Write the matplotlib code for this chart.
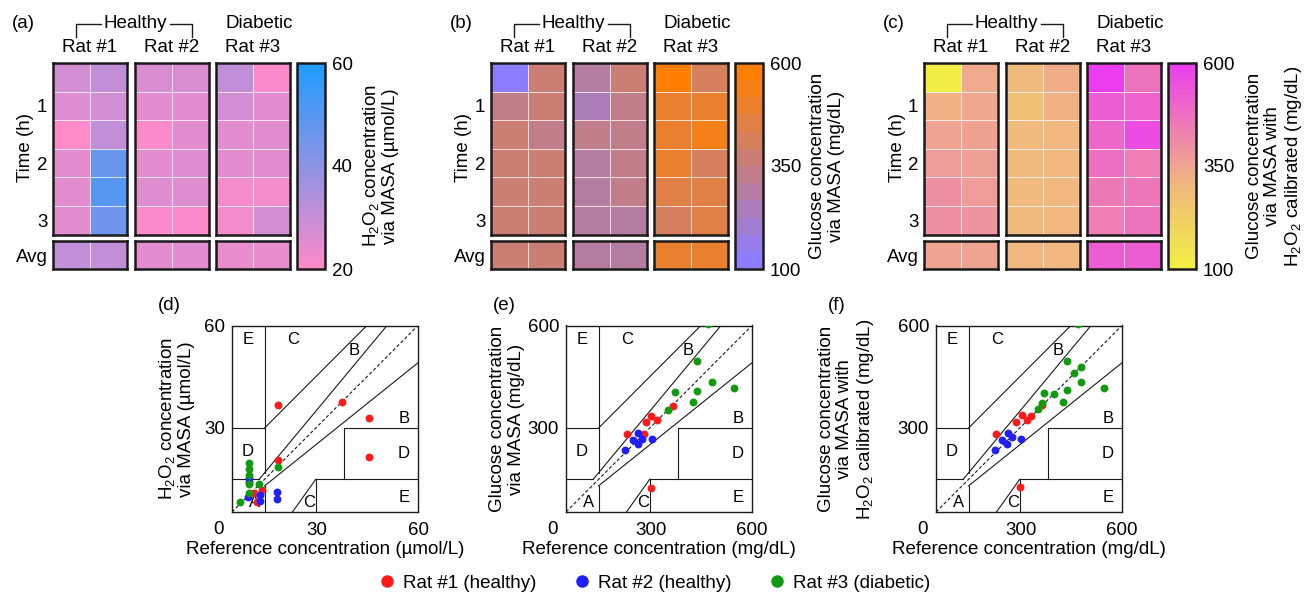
import numpy as np
import matplotlib
matplotlib.use('Agg')
import matplotlib.pyplot as plt
from matplotlib.colors import LinearSegmentedColormap, Normalize
from matplotlib.cm import ScalarMappable
from matplotlib.lines import Line2D

plt.rcParams['font.family'] = ['Liberation Sans', 'DejaVu Sans']
plt.rcParams['mathtext.fontset'] = 'custom'
plt.rcParams['mathtext.rm'] = 'Liberation Sans'
plt.rcParams['mathtext.it'] = 'Liberation Sans:italic'
plt.rcParams['font.size'] = 13.5

#--- heatmaps: 6 time rows (every 0.5 h) x 2 replicate columns per rat ---
rat_names = ['Rat #1', 'Rat #2', 'Rat #3']
time_labels = ['', '1', '', '2', '', '3']

#(a) H2O2 via MASA (umol/L)
h2o2_rat1 = [[28, 31], [26, 28], [20, 31], [25, 47], [25, 50], [25, 46]]
h2o2_rat2 = [[27, 27], [25, 25], [21, 25], [25, 26], [26, 26], [21, 21]]
h2o2_rat3 = [[31, 21], [28, 25], [25, 25], [25, 25], [22, 22], [22, 28]]
h2o2_avg = [[31, 31], [25, 25], [24, 24]]

#(b) glucose via MASA (mg/dL)
glu_rat1 = [[130, 370], [320, 370], [370, 310], [390, 350], [390, 370], [390, 370]]
glu_rat2 = [[280, 350], [260, 310], [310, 310], [305, 310], [305, 310], [305, 305]]
glu_rat3 = [[600, 430], [500, 500], [480, 540], [480, 410], [460, 460], [400, 470]]
glu_avg = [[350, 350], [300, 300], [480, 480]]

#(c) glucose via MASA with H2O2 calibration (mg/dL)
cal_rat1 = [[110, 340], [320, 345], [350, 355], [370, 360], [400, 370], [400, 390]]
cal_rat2 = [[300, 330], [270, 320], [300, 305], [300, 305], [300, 305], [300, 305]]
cal_rat3 = [[600, 470], [520, 510], [500, 560], [480, 440], [450, 460], [440, 470]]
cal_avg = [[350, 350], [305, 305], [520, 520]]

#--- Clarke error grid scatter (reference, measured) ---
d_rat1_x = [18.5, 37.4, 45.6, 45.6, 18.5, 13.8, 11.6, 12.3]
d_rat1_y = [36.6, 37.3, 32.8, 21.1, 20.3, 11.5, 10.7, 8.0]
d_rat2_x = [10.0, 10.0, 13.3, 13.3, 9.6, 18.2, 18.2]
d_rat2_y = [15.0, 13.7, 10.0, 8.3, 9.5, 11.0, 8.8]
d_rat3_x = [10.0, 10.0, 10.0, 10.0, 13.0, 18.5, 10.0, 7.4]
d_rat3_y = [19.4, 17.6, 15.9, 13.3, 13.3, 18.4, 10.5, 8.0]

e_rat1_x = [365, 301, 288, 320, 230, 281, 300]
e_rat1_y = [364, 332, 315, 321, 279, 279, 122]
e_rat2_x = [264, 249, 264, 303, 225, 274]
e_rat2_y = [283, 262, 250, 264, 232, 266]
e_rat3_x = [436, 481, 547, 436, 372, 427, 353, 470]
e_rat3_y = [494, 432, 417, 407, 403, 374, 352, 605]

f_rat1_x = [363, 303, 287, 331, 318, 227, 298]
f_rat1_y = [365, 335, 316, 332, 321, 279, 123]
f_rat2_x = [225, 244, 264, 259, 274, 301]
f_rat2_y = [232, 262, 283, 250, 272, 264]
f_rat3_x = [436, 478, 459, 478, 436, 547, 399, 370, 427, 363, 351, 471]
f_rat3_y = [495, 477, 460, 433, 409, 417, 399, 402, 374, 370, 354, 605]

rat_colors = ['#ff1a1a', '#1f1fff', '#0f9a0f']
legend_labels = ['Rat #1 (healthy)', 'Rat #2 (healthy)', 'Rat #3 (diabetic)']

#Clarke zone boundaries in grid units (0-400 spans the box)
clarke_lines = [([0, 175/3], [70, 70]), ([175/3, 400/1.2], [70, 400]),
                ([70, 70], [84, 400]), ([0, 70], [180, 180]),
                ([70, 290], [180, 400]), ([70, 70], [0, 56]),
                ([70, 400], [56, 320]), ([180, 180], [0, 70]),
                ([180, 400], [70, 70]), ([240, 240], [70, 180]),
                ([240, 400], [180, 180]), ([130, 180], [0, 70])]
zone_letters = [('E', 34, 369), ('C', 131, 369), ('B', 263, 346), ('B', 370, 200),
                ('D', 370, 126), ('E', 370, 32), ('D', 34, 129), ('A', 49, 21),
                ('C', 165, 21)]

#colormaps
cmap_a = LinearSegmentedColormap.from_list('a', ['#ff8ac8', '#1e9cff'])
cmap_b = LinearSegmentedColormap.from_list('b', ['#8c7cff', '#ff8000'], N=12)
cmap_c = LinearSegmentedColormap.from_list('c', [(0, '#f2f041'), (0.4, '#f0b97d'), (1, '#eb3cf0')])

W, H = 1304, 594
fig = plt.figure(figsize=(W/100, H/100), dpi=100)
ink = '#1a1a1a'

def fx(x):
    return x / W

def fy(y):
    return 1 - y / H

def add_px(x0, y0, x1, y1):
    return fig.add_axes([fx(x0), fy(y1), (x1 - x0) / W, (y1 - y0) / H])

def block(ax, vals, cmap, vmin, vmax):
    ax.pcolormesh(np.asarray(vals, float), cmap=cmap, vmin=vmin, vmax=vmax,
                  edgecolors=(1, 1, 1, 0.75), linewidth=0.6)
    ax.invert_yaxis()
    ax.set_xticks([])
    ax.set_yticks([])
    for s in ax.spines.values():
        s.set_linewidth(1.8)
        s.set_edgecolor(ink)

def heat_panel(x0, tag, rows, avgs, cmap, vmin, vmax, label, label_dx):
    for i in range(3):
        left = x0 + [0, 82, 163][i]
        ax = add_px(left, 63, left + 74, 234.5)
        block(ax, rows[i], cmap, vmin, vmax)
        axa = add_px(left, 241, left + 74, 269)
        block(axa, [avgs[i]], cmap, vmin, vmax)
        fig.text(fx(left + 37), fy(48), rat_names[i], ha='center', va='center')
        if i == 0:
            ax.set_yticks(np.arange(6) + 0.5, time_labels)
            axa.set_yticks([0.5], ['Avg'])
            ax.tick_params(length=0, pad=4)
            axa.tick_params(length=0, pad=4)
    #group headers
    fig.text(fx(x0 - 41), fy(23), tag, ha='left', va='center')
    fig.text(fx(x0 + 82), fy(23), 'Healthy', ha='center', va='center')
    fig.text(fx(x0 + 206), fy(23), 'Diabetic', ha='center', va='center')
    for xs, ys in [([x0 + 23, x0 + 23, x0 + 48], [37, 23.5, 23.5]),
                   ([x0 + 117, x0 + 139, x0 + 139], [23.5, 23.5, 37])]:
        fig.add_artist(Line2D([fx(v) for v in xs], [fy(v) for v in ys], color=ink, lw=1))
    fig.text(fx(x0 - 27), fy(148), 'Time (h)', rotation=90, ha='center', va='center')
    #colorbar
    cax = add_px(x0 + 244, 63, x0 + 272, 269)
    cb = fig.colorbar(ScalarMappable(Normalize(vmin, vmax), cmap), cax=cax,
                      ticks=[vmin, (vmin + vmax) // 2, vmax], format='%d')
    cb.outline.set_linewidth(1.8)
    cb.outline.set_edgecolor(ink)
    cax.tick_params(length=0, pad=5)
    fig.text(fx(x0 + label_dx), fy(166), label, rotation=90, ha='center', va='center',
             multialignment='center', linespacing=1.1)

def clarke_panel(x0, lo, hi, ticks, tag, series, xlabel, ylabel, ylabel_x, tag_x):
    ax = add_px(x0, 325.5, x0 + 186, 512)
    s = (hi - lo) / 400.0
    for gx, gy in clarke_lines:
        ax.plot([lo + s * v for v in gx], [lo + s * v for v in gy], color=ink, lw=0.8, zorder=1)
    ax.plot([lo, hi], [lo, hi], color=ink, lw=0.8, ls=(0, (3, 2)), zorder=1)
    for z, zx, zy in zone_letters:
        ax.text(lo + s * zx, lo + s * zy, z, ha='center', va='center', fontsize=12)
    for (xs, ys), c in zip(series, rat_colors):
        ax.scatter(xs, ys, s=32, color=c, zorder=3, linewidths=0)
    ax.set_xlim(lo, hi)
    ax.set_ylim(lo, hi)
    ax.set_xticks(ticks)
    ax.set_yticks(ticks)
    ax.tick_params(axis='x', length=0, pad=7)
    ax.tick_params(axis='y', length=0, pad=5)
    for sp in ax.spines.values():
        sp.set_linewidth(1.0)
        sp.set_edgecolor(ink)
    ax.annotate('0', xy=(0, 0), xycoords='axes fraction', xytext=(-13, -9.5),
                textcoords='offset pixels', ha='center', va='top')
    ax.set_xlabel(xlabel)
    ax.xaxis.set_label_coords(0.5, -0.155)
    fig.text(fx(ylabel_x), fy(419), ylabel, rotation=90, ha='center', va='center',
             multialignment='center', linespacing=1.1)
    fig.text(fx(tag_x), fy(306), tag, ha='left', va='center')

heat_panel(53, '(a)', [h2o2_rat1, h2o2_rat2, h2o2_rat3], h2o2_avg, cmap_a, 20, 60,
           'H$_2$O$_2$ concentration\nvia MASA (µmol/L)', 327)
heat_panel(491, '(b)', [glu_rat1, glu_rat2, glu_rat3], glu_avg, cmap_b, 100, 600,
           'Glucose concentration\nvia MASA (mg/dL)', 336)
heat_panel(924, '(c)', [cal_rat1, cal_rat2, cal_rat3], cal_avg, cmap_c, 100, 600,
           'Glucose concentration\nvia MASA with\nH$_2$O$_2$ calibrated (mg/dL)', 351)

clarke_panel(232, 5, 60, [30, 60], '(d)',
             [(d_rat1_x, d_rat1_y), (d_rat2_x, d_rat2_y), (d_rat3_x, d_rat3_y)],
             'Reference concentration (µmol/L)',
             'H$_2$O$_2$ concentration\nvia MASA (µmol/L)', 176, 158)
clarke_panel(566, 50, 600, [300, 600], '(e)',
             [(e_rat1_x, e_rat1_y), (e_rat2_x, e_rat2_y), (e_rat3_x, e_rat3_y)],
             'Reference concentration (mg/dL)',
             'Glucose concentration\nvia MASA (mg/dL)', 507, 493)
clarke_panel(936, 50, 600, [300, 600], '(f)',
             [(f_rat1_x, f_rat1_y), (f_rat2_x, f_rat2_y), (f_rat3_x, f_rat3_y)],
             'Reference concentration (mg/dL)',
             'Glucose concentration\nvia MASA with\nH$_2$O$_2$ calibrated (mg/dL)', 847, 828)

handles = [Line2D([], [], ls='', marker='o', markersize=9, color=c, markeredgewidth=0)
           for c in rat_colors]
fig.legend(handles, legend_labels, loc='center', bbox_to_anchor=(fx(654), fy(583)),
           ncol=3, frameon=False, handlelength=1.0, handletextpad=0.33,
           columnspacing=1.95, borderpad=0, borderaxespad=0)

fig.savefig('out.png', dpi=100)
